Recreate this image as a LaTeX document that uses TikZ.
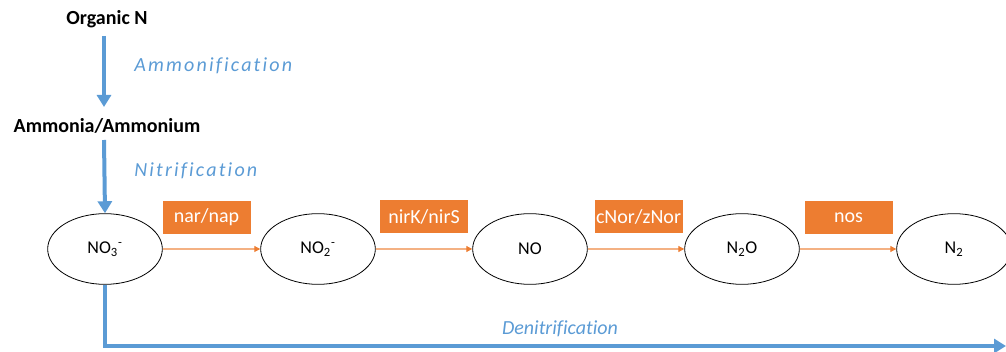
\documentclass[tikz,border=0pt]{standalone}
\usepackage{fontspec}
\setmainfont[Ligatures=NoCommon]{Carlito}
\newfontfamily\spacedfont[LetterSpace=11,Ligatures=NoCommon]{Carlito}
\usetikzlibrary{arrows.meta,calc,shapes.geometric}
\definecolor{cblue}{HTML}{5B9BD5}
\definecolor{corange}{HTML}{ED7D31}
\definecolor{clorange}{HTML}{F4B183}
\tikzset{
  txt/.style={font=\fontsize{15}{18}\selectfont, inner sep=0pt},
  boldtxt/.style={txt, font=\fontsize{15}{18}\selectfont\bfseries},
  proc/.style={txt, font=\fontsize{15}{18}\selectfont\itshape, text=cblue},
  sproc/.style={txt, font=\spacedfont\fontsize{15}{18}\selectfont\itshape, text=cblue},
  species/.style={ellipse, draw=black, line width=0.6pt, minimum width=86pt, minimum height=53pt, inner sep=0pt, font=\fontsize{13.5}{16}\selectfont},
  enzyme/.style={fill=corange, text=white, minimum width=66pt, minimum height=25pt, inner sep=0pt, font=\fontsize{15}{18}\selectfont},
  bluearrow/.style={draw=cblue, line width=3pt, -{Triangle[width=10.5pt,length=9pt]}},
  orangearrow/.style={draw=clorange, line width=0.8pt, -{Triangle[width=4.5pt,length=4.5pt,color=corange,fill=corange]}},
}
\begin{document}
\begin{tikzpicture}[x=0.75pt,y=-0.75pt]
\useasboundingbox (0,0) rectangle (1006,352);
\node[boldtxt] (org) at (107,19) {Organic N};
\node[boldtxt] (amm) at (107,126) {Ammonia/Ammonium};
\node[sproc, anchor=west] (ammon) at (134,66) {Ammonification};
\node[sproc, anchor=west] (nitr) at (134,171) {Nitrification};
\node[species] (no3) at (105,249) {NO\textsubscript{3}\textsuperscript{-}};
\node[species] (no2) at (318,249) {NO\textsubscript{2}\textsuperscript{-}};
\node[species] (no) at (530,249) {NO};
\node[species] (n2o) at (742,249) {N\textsubscript{2}O};
\node[species] (n2) at (954,249) {N\textsubscript{2}};
\node[enzyme] (e1) at (206.5,217.5) {nar/nap};
\node[enzyme] (e2) at (424,216.5) {nirK/nirS};
\node[enzyme] (e3) at (638.5,216.5) {cNor/zNor};
\node[enzyme] (e4) at (848.5,217.5) {nos};
\node[proc] (denit) at (560,329) {Denitrification};
\coordinate (a1s) at (104,36);
\coordinate (a1e) at (104,107);
\coordinate (a2s) at (104,140);
\coordinate (corner) at (105,346);
\coordinate (dend) at (1006,346);
\draw[bluearrow] (a1s) -- (a1e);
\draw[bluearrow] (a2s) -- (no3.north);
\draw[bluearrow] (no3.south) -- (corner) -- (dend);
\draw[orangearrow] (no3.east) -- (no2.west);
\draw[orangearrow] (no2.east) -- (no.west);
\draw[orangearrow] (no.east) -- (n2o.west);
\draw[orangearrow] (n2o.east) -- (n2.west);
\end{tikzpicture}
\end{document}
